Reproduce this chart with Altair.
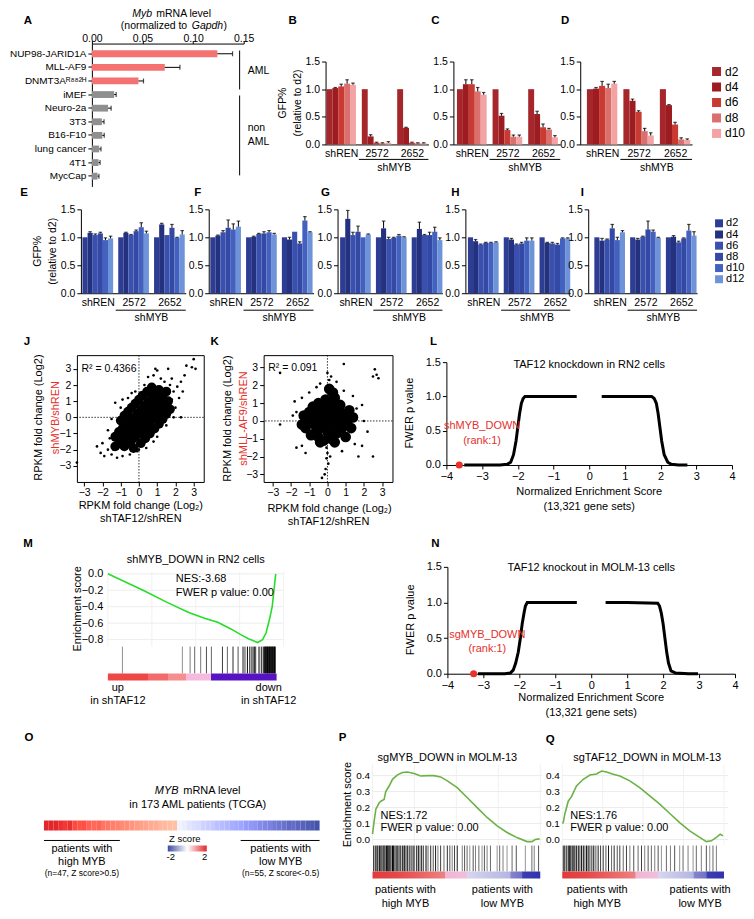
import altair as alt
import pandas as pd

FONT = "Liberation Sans"
RED_TXT = "#e5302b"

# ================= DATA =================
# Panel A
A_LINES = ["NUP98-JARID1A", "MLL-AF9", "DNMT3Aᴿ⁸⁸²ᴴ", "iMEF", "Neuro-2a", "3T3",
           "B16-F10", "lung cancer", "4T1", "MycCap"]
A_VALS = [0.124, 0.072, 0.046, 0.022, 0.016, 0.0099, 0.0103, 0.0072, 0.0066, 0.0056]
A_ERRS = [0.015, 0.015, 0.005, 0.002, 0.003, 0.0021, 0.0019, 0.0018, 0.0015, 0.0014]
A_GROUP = ["AML"] * 3 + ["non AML"] * 7

# Panels B-D (red, d2..d10)
DAYS_R = ["d2", "d4", "d6", "d8", "d10"]
REDS = ["#a5262b", "#9c1c21", "#c93a33", "#d9706e", "#f3a3a3"]
B_VALS = [[1.00, 1.02, 1.05, 1.10, 1.08], [1.00, 0.145, 0.03, 0.02, 0.03], [1.00, 0.30, 0.03, 0.02, 0.02]]
B_ERRS = [[0, 0.01, 0.04, 0.07, 0.03], [0, 0.03, 0.01, 0.01, 0.02], [0, 0.01, 0.01, 0.01, 0.01]]
C_VALS = [[1.00, 1.09, 1.09, 0.96, 0.90], [1.00, 0.52, 0.26, 0.14, 0.14], [1.00, 0.55, 0.31, 0.27, 0.13]]
C_ERRS = [[0, 0.08, 0.08, 0.07, 0.04], [0, 0.04, 0.02, 0.03, 0.03], [0, 0.05, 0.06, 0.02, 0.03]]
D_VALS = [[1.00, 1.01, 1.06, 1.02, 1.10], [1.00, 0.79, 0.59, 0.24, 0.16], [1.00, 0.71, 0.36, 0.09, 0.08]]
D_ERRS = [[0, 0.02, 0.08, 0.07, 0.04], [0, 0.03, 0.02, 0.05, 0.05], [0, 0.01, 0.04, 0.03, 0.02]]

# Panels E-I (blue, d2..d12)
DAYS_B = ["d2", "d4", "d6", "d8", "d10", "d12"]
BLUES = ["#2d3d93", "#23317f", "#3a50ae", "#3449a6", "#4362c0", "#6f93d8"]
E_VALS = [[1.0, 1.08, 1.04, 1.07, 0.95, 0.98], [1.0, 1.08, 1.04, 1.11, 1.18, 1.07], [1.0, 1.23, 1.04, 1.17, 0.99, 1.05]]
E_ERRS = [[0, 0.02, 0.02, 0.02, 0.04, 0.04], [0, 0.01, 0.01, 0.02, 0.08, 0.04], [0, 0.02, 0.0, 0.06, 0.01, 0.07]]
F_VALS = [[1.0, 1.03, 1.09, 1.17, 1.14, 1.19], [1.0, 1.01, 1.06, 1.07, 1.09, 1.05], [1.0, 0.96, 1.10, 0.89, 1.30, 1.09]]
F_ERRS = [[0, 0.01, 0.03, 0.14, 0.10, 0.10], [0, 0.01, 0.01, 0.03, 0.03, 0.02], [0, 0.04, 0, 0.03, 0.07, 0.01]]
G_VALS = [[1.0, 1.33, 1.04, 1.10, 1.0, 1.05], [1.0, 1.16, 0.97, 0.99, 1.03, 1.0], [1.0, 1.15, 1.04, 1.04, 1.10, 0.95]]
G_ERRS = [[0, 0.15, 0.05, 0.10, 0, 0.01], [0, 0.13, 0.03, 0.01, 0.02, 0.01], [0, 0.12, 0.01, 0.05, 0.08, 0.04]]
H_VALS = [[1.0, 0.93, 0.87, 0.90, 0.90, 0.91], [1.0, 0.96, 0.87, 0.89, 0.94, 0.94], [1.0, 0.90, 0.89, 0.87, 0.98, 0.98]]
H_ERRS = [[0, 0.03, 0.01, 0.01, 0.01, 0.01], [0, 0.02, 0.01, 0.02, 0.05, 0.05], [0, 0.01, 0.02, 0.02, 0.01, 0.01]]
I_VALS = [[1.0, 0.94, 0.96, 1.16, 0.95, 1.09], [1.0, 0.96, 1.01, 1.14, 1.10, 0.99], [1.0, 1.01, 0.91, 0.98, 1.12, 1.03]]
I_ERRS = [[0, 0.04, 0.01, 0.07, 0.05, 0.03], [0, 0.02, 0.01, 0.15, 0.03, 0.01], [0, 0.02, 0.02, 0.01, 0.11, 0.07]]

# Panel J scatter (dense core + sparse points)
J_CORE = [(-1.3, -1.8), (-1.1, -1.6), (-0.9, -1.4), (-0.7, -1.2), (-0.5, -1.0), (-0.3, -0.8), (-0.1, -0.55),
          (0.1, -0.3), (0.3, -0.05), (0.5, 0.2), (0.7, 0.45), (0.9, 0.7), (1.1, 0.95), (1.3, 1.25), (1.5, 1.6),
          (-1.3, -1.2), (-1.1, -0.9), (-0.9, -0.7), (-0.7, -0.5), (-0.5, -0.3), (-0.3, -0.05), (-0.1, 0.2),
          (0.1, 0.45), (0.3, 0.7), (0.5, 0.95), (0.7, 1.2), (0.9, 1.45), (1.1, 1.7),
          (-1.0, -0.2), (-0.8, 0.1), (-0.6, 0.35), (-0.4, 0.6), (-0.2, 0.85), (0.0, 1.1), (0.2, 1.35), (0.45, 1.6), (0.7, 1.85),
          (-0.8, -1.8), (-0.6, -1.6), (-0.4, -1.4), (-0.2, -1.2), (0.0, -1.0), (0.2, -0.8), (0.4, -0.55), (0.6, -0.3),
          (0.8, -0.05), (1.0, 0.2), (1.2, 0.45), (1.4, 0.75), (1.6, 1.0),
          (-0.3, -1.9), (0.1, -1.6), (0.35, -1.3), (0.6, -1.0), (0.85, -0.7), (1.1, -0.4), (1.3, -0.1), (1.5, 0.2), (1.7, 0.5)]
J_PTS = [(-3.4, -2.8), (-2.1, -2.2), (-1.9, -2.4), (-1.7, -2.0), (-2.0, -1.6), (-1.5, -2.3), (-1.2, -2.5), (-0.9, -2.4),
         (-0.5, -2.3), (-0.1, -2.1), (0.4, -1.9), (1.0, -1.2), (1.5, -0.5), (1.9, 0.0), (2.3, 0.0), (2.0, 0.6),
         (2.2, 1.2), (1.9, 1.6), (1.7, 2.0), (1.8, 2.4), (1.6, 3.0), (2.5, 2.6), (2.6, 3.2), (2.9, 3.1), (3.0, 3.6),
         (3.1, 3.0), (2.3, 2.2), (1.2, 2.4), (0.8, 2.6), (0.5, 2.5), (1.0, 2.9), (0.9, 3.0), (-0.4, 1.5), (-1.0, 0.6),
         (-1.3, 0.9), (-0.9, 1.1), (-1.5, -0.1), (-1.7, -0.8), (-1.6, -1.3), (2.1, 1.9), (1.4, 2.2), (-0.6, 1.2),
         (0.3, 2.0), (-0.2, 1.6), (1.8, 1.1), (2.4, 1.6), (0.8, -1.5), (-1.4, -2.0), (0.0, -2.0), (-2.3, -1.8)]

# Panel K scatter
K_CORE = [(-1.2, -0.4), (-1.1, 0.1), (-1.0, 0.5), (-0.9, -0.8), (-0.8, 0.8), (-0.7, -0.2), (-0.6, 0.3), (-0.5, -0.9),
          (-0.5, 1.0), (-0.4, -0.4), (-0.3, 0.6), (-0.2, -1.1), (-0.2, 0.1), (-0.1, 1.2), (0.0, -0.6), (0.1, 0.4),
          (0.2, -1.0), (0.2, 0.9), (0.3, -0.2), (0.4, 1.3), (0.5, 0.5), (0.5, -0.7), (0.6, 0.0), (0.7, 0.9),
          (0.8, -0.4), (0.9, 0.4), (1.0, -0.9), (1.1, 0.0), (1.2, 0.6), (1.3, -0.4), (-1.3, 0.3), (-0.9, 0.0),
          (-0.3, -0.1), (0.0, 0.0), (0.3, 0.3), (-0.6, -0.5), (0.1, -0.3), (0.9, -0.1), (0.4, -1.2), (-0.4, -1.2),
          (0.0, 0.8), (-0.7, 0.5), (1.4, 0.2), (0.3, 1.6), (0.1, 1.8), (-1.4, -0.2)]
K_PTS = [(0.1, 2.0), (0.1, 2.3), (0.2, 2.5), (0.0, 2.7), (-0.05, -1.5), (0.0, -1.8), (-0.05, -2.1), (0.05, -2.4),
         (-0.1, -2.7), (-0.15, -3.0), (-0.3, -3.2), (0.15, -2.0), (-2.6, 2.7), (0.9, 3.2), (2.6, 2.9), (2.7, 2.6),
         (2.8, 2.4), (2.5, 2.5), (-1.8, 1.1), (-1.9, 0.3), (-2.6, -0.2), (-1.7, -1.5), (-1.4, -1.4), (1.5, -1.3),
         (1.9, -1.4), (2.5, -2.0), (1.7, -2.0), (2.2, -0.6), (1.9, 0.9), (-1.0, 1.6), (-1.4, 1.3), (1.4, 1.4),
         (0.9, 1.7), (-0.6, 1.9), (1.6, 0.7), (-1.7, 0.5), (2.0, 0.0), (-1.2, -1.8), (0.8, -1.7), (0.5, 2.2), (-0.4, 2.1)]

# Panels L and N: FWER p value vs NES
L_LEFT = [(-3.5, 0), (-2.5, 0), (-2.3, 0.01), (-2.2, 0.04), (-2.12, 0.15), (-2.05, 0.35), (-2.0, 0.55),
          (-1.95, 0.75), (-1.9, 0.9), (-1.85, 0.97), (-1.8, 1.0), (-1.0, 1.0), (-0.35, 1.0)]
L_RIGHT = [(0.35, 1.0), (1.0, 1.0), (1.75, 1.0), (1.82, 0.97), (1.88, 0.9), (1.93, 0.75), (1.98, 0.55),
           (2.03, 0.35), (2.1, 0.15), (2.2, 0.04), (2.3, 0.01), (2.5, 0), (2.75, 0)]
N_LEFT = [(-3.15, 0), (-2.4, 0), (-2.25, 0.01), (-2.17, 0.05), (-2.1, 0.15), (-2.03, 0.3), (-1.97, 0.5),
          (-1.92, 0.7), (-1.87, 0.85), (-1.83, 0.95), (-1.78, 1.0), (-1.0, 1.0), (-0.4, 1.0)]
N_RIGHT = [(0.4, 1.0), (1.0, 1.0), (1.85, 0.99), (1.9, 0.95), (1.95, 0.85), (2.0, 0.7), (2.05, 0.5),
           (2.1, 0.3), (2.15, 0.15), (2.22, 0.04), (2.35, 0.01), (2.7, 0), (2.97, 0)]

# Panel M: running enrichment score, hits
M_X = [0, 10, 20, 34, 46, 55, 62.5, 70, 75.6, 80, 85.2, 88, 90, 92, 93.5, 94.5, 95.5]
M_Y = [0, -0.1, -0.2, -0.35, -0.47, -0.54, -0.59, -0.67, -0.74, -0.79, -0.836, -0.80, -0.72, -0.55, -0.4, -0.2, 0.0]
M_BAR_X = [8.3, 42.4, 46.8, 49.4, 52.8, 56.1, 58.9, 65.2, 68.0, 71.2,
           74.1, 76.9, 78.0, 79.4, 80.7, 81.6, 82.6, 83.5, 84.1, 86.0,
           87.3, 88.4, 89.2, 89.6, 90.0, 90.4, 90.8, 91.2, 91.6, 92.0,
           92.4, 92.8, 93.2, 93.6, 94.0, 94.4, 94.8, 95.2]
M_BAR_W = [0.3, 0.3, 0.4, 0.5, 0.4, 0.6, 0.5, 0.7, 0.5, 0.8,
           0.6, 0.9, 0.7, 1.0, 0.8, 0.6, 1.0, 0.9, 0.7, 1.0,
           0.9, 1.0, 1.0, 1.0, 1.0, 1.0, 1.0, 1.0, 1.0, 1.0,
           1.0, 1.0, 1.0, 1.0, 1.0, 1.0, 1.0, 1.0]

# Panel O: MYB z-scores (sorted patients)
O_Z = [2.3, 2.1, 2.2, 1.9, 1.8, 1.9, 1.6, 1.5, 1.55, 1.3, 1.2, 1.25, 1.05, 1.0, 0.9, 0.85, 0.75, 0.7,
       0.6, 0.5, 0.45, 0.38, 0.3, 0.25, 0.15, 0.1, 0.05, 0.0, -0.05, -0.1, -0.2, -0.25, -0.3, -0.4, -0.45, -0.5,
       -0.6, -0.65, -0.7, -0.8, -0.85, -0.9, -1.0, -1.05, -1.1, -1.2, -1.25, -1.3, -1.4, -1.45, -1.5, -1.6,
       -1.55, -1.65, -1.7, -1.75, -1.8, -1.9]

# Panel P
P_X = [0, 1.0, 2.0, 4.0, 5.0, 6.9, 7.9, 9.9, 11.9, 14.9, 17.8, 20.8, 24.8, 28.7, 32.7, 36.6, 40.6, 44.6,
       50.5, 56.4, 62.4, 68.3, 74.3, 80.2, 86.1, 92.1, 95.0, 97.0, 99.6]
P_Y = [0.034, 0.117, 0.19, 0.23, 0.24, 0.25, 0.30, 0.335, 0.377, 0.405, 0.42, 0.423, 0.413, 0.398, 0.40, 0.40,
       0.392, 0.367, 0.325, 0.263, 0.2, 0.138, 0.085, 0.044, 0.012, -0.013, -0.013, 0.0, 0.004]
P_BAR_X = [0.6, 1.6, 2.6, 3.2, 4.2, 5.0, 5.5, 6.3, 6.9, 7.5,
           8.3, 8.9, 9.3, 9.9, 10.5, 11.1, 11.9, 12.5, 13.3, 14.1,
           14.9, 15.8, 16.8, 17.8, 18.6, 19.2, 20.0, 21.0, 22.0, 23.0,
           24.2, 25.1, 26.3, 27.3, 28.3, 29.3, 30.3, 31.9, 33.1, 34.7,
           36.2, 37.6, 39.0, 40.6, 42.6, 44.6, 46.1, 47.5, 48.9, 50.5,
           53.5, 54.9, 56.4, 58.0, 60.0, 61.4, 63.4, 65.3, 66.7, 68.3,
           70.3, 74.3, 75.8, 77.8, 80.2, 83.2, 85.7, 91.1, 95.0, 96.4,
           99.0]
P_BAR_W = [0.7, 1.0, 0.8, 1.0, 0.9, 1.0, 0.6, 1.0, 0.9, 0.8,
           1.0, 0.7, 1.0, 0.9, 1.0, 0.6, 1.0, 0.9, 0.7, 1.0,
           0.6, 1.0, 0.8, 0.9, 0.5, 1.0, 0.7, 1.0, 0.6, 0.9,
           1.0, 0.5, 0.8, 1.0, 0.6, 0.9, 0.7, 1.0, 0.5, 0.8,
           0.6, 0.9, 0.4, 0.7, 0.5, 0.8, 0.6, 0.4, 0.7, 0.9,
           0.4, 0.6, 0.5, 0.3, 0.6, 0.4, 0.5, 0.3, 0.6, 0.4,
           0.5, 0.3, 0.5, 0.4, 0.3, 0.5, 0.6, 0.3, 0.5, 0.4,
           0.6]

# Panel Q
Q_X = [0, 0.6, 1.6, 3.7, 5.8, 8.8, 13.0, 17.1, 21.2, 24.3, 27.4, 31.5, 35.6, 41.8, 47.9, 54.1, 60.3,
       66.5, 72.6, 78.8, 85.0, 89.1, 92.2, 95.3, 97.7, 99.4]
Q_Y = [0.10, 0.106, 0.16, 0.24, 0.27, 0.335, 0.377, 0.404, 0.41, 0.429, 0.423, 0.408, 0.398, 0.367, 0.325,
       0.273, 0.221, 0.163, 0.106, 0.054, 0.013, -0.013, -0.008, 0.013, 0.033, 0.023]
Q_BAR_X = [0.6, 1.6, 2.7, 3.7, 4.5, 5.3, 6.2, 7.0, 7.8, 8.8,
           9.9, 10.9, 11.9, 13.0, 14.0, 15.0, 16.0, 17.1, 18.3, 19.5,
           20.8, 22.2, 23.7, 25.3, 27.0, 28.6, 30.5, 32.1, 34.0, 35.6,
           37.7, 39.7, 41.8, 44.2, 46.9, 49.0, 51.0, 53.1, 55.1, 57.2,
           59.3, 61.3, 64.4, 66.9, 69.5, 72.6, 74.7, 77.8, 80.9, 82.9,
           86.0, 89.1, 91.2, 93.2, 95.3]
Q_BAR_W = [0.9, 1.0, 0.7, 1.0, 0.8, 1.0, 0.9, 0.6, 1.0, 0.8,
           1.0, 0.7, 0.9, 1.0, 0.6, 0.9, 1.0, 0.7, 0.8, 1.0,
           0.6, 0.9, 0.7, 0.8, 0.6, 0.9, 0.5, 0.8, 0.6, 0.7,
           0.5, 0.7, 0.4, 0.6, 0.5, 0.7, 0.4, 0.6, 0.5, 0.4,
           0.6, 0.3, 0.5, 0.4, 0.6, 0.3, 0.5, 0.4, 0.3, 0.5,
           0.4, 0.6, 0.3, 0.5, 0.4]


# ================= helpers =================
def tdf(**cols):
    return pd.DataFrame({k: (v if isinstance(v, list) else [v]) for k, v in cols.items()})


def ptxt(text, x, y, size=11, align="center", baseline="middle", color="black",
         weight="normal", style="normal", angle=0, opacity=1):
    return alt.Chart(tdf(t=text)).mark_text(
        font=FONT, fontSize=size, align=align, baseline=baseline, color=color,
        fontWeight=weight, fontStyle=style, angle=angle, opacity=opacity
    ).encode(x=alt.value(x), y=alt.value(y), text="t:N")


def dtxt(text, x, y, xs, ys, ax, ay, size=11, align="center", baseline="middle", color="black"):
    return alt.Chart(tdf(t=text, x=x, y=y)).mark_text(
        font=FONT, fontSize=size, align=align, baseline=baseline, color=color
    ).encode(x=alt.X("x:Q", scale=xs, axis=ax), y=alt.Y("y:Q", scale=ys, axis=ay), text="t:N")


def letter(ch, dx, dy):
    return ptxt(ch, dx, dy, size=11.5, weight="bold")


def anchors(left, top, bottom):
    return [ptxt(".", left, top, size=2, align="left", baseline="top", opacity=0),
            ptxt(".", left, bottom, size=2, align="left", baseline="bottom", opacity=0)]


def spacer(w):
    return alt.Chart(tdf(t="")).mark_text(opacity=0).encode(text="t:N").properties(width=w, height=1)


def gradient(stops):
    return alt.LinearGradient(gradient="linear", x1=0, x2=1, y1=0, y2=0,
                              stops=[alt.GradientStop(color=c, offset=o) for o, c in stops])


# ================= panels =================
def panel_A():
    df = pd.DataFrame({"line": A_LINES, "val": A_VALS, "err": A_ERRS, "grp": A_GROUP})
    df["hi"] = df["val"] + df["err"]
    xs = alt.Scale(domain=[0, 0.15], nice=False, zero=True)
    ys = alt.Scale(domain=A_LINES, paddingInner=0.5, paddingOuter=0.5)
    ax = alt.Axis(orient="top", values=[0, 0.05, 0.10, 0.15], format=".2f", title=None, tickSize=3,
                  labelPadding=-1, labelBaseline="alphabetic", labelFontSize=10.5)
    ay = alt.Axis(title=None, tickSize=4, labelPadding=2, labelFontSize=10)
    Y = alt.Y("line:N", scale=ys, sort=A_LINES, axis=ay)
    bars = alt.Chart(df).mark_bar().encode(
        x=alt.X("val:Q", scale=xs, axis=ax), y=Y,
        color=alt.Color("grp:N", scale=alt.Scale(domain=["AML", "non AML"], range=["#f47372", "#8f8f8f"]), legend=None))
    err = alt.Chart(df).mark_rule(color="black", strokeWidth=1).encode(
        x=alt.X("val:Q", scale=xs, axis=ax), x2="hi:Q", y=Y)
    cap = alt.Chart(df).mark_tick(color="black", orient="vertical", size=5, thickness=1.2).encode(
        x=alt.X("hi:Q", scale=xs, axis=ax), y=Y)
    br1 = alt.Chart(tdf(x=0.146)).mark_rule(color="black", strokeWidth=1).encode(
        x=alt.X("x:Q", scale=xs, axis=ax), y=alt.value(7), y2=alt.value(46))
    br2 = alt.Chart(tdf(x=0.146)).mark_rule(color="black", strokeWidth=1).encode(
        x=alt.X("x:Q", scale=xs, axis=ax), y=alt.value(52), y2=alt.value(132))
    layers = [bars, err, cap, br1, br2,
              ptxt("AML", 156, 27, size=10.5, align="left"),
              ptxt("non", 156, 85, size=10.5, align="left"),
              ptxt("AML", 156, 99, size=10.5, align="left"),
              ptxt("Myb", 40.5, -30, size=10.5, align="left", style="italic"),
              ptxt("mRNA level", 64.5, -30, size=10.5, align="left"),
              ptxt("(normalized to", 29, -17.5, size=10.5, align="left"),
              ptxt("Gapdh", 100, -17.5, size=10.5, align="left", style="italic"),
              ptxt(")", 131.8, -17.5, size=10.5, align="left"),
              letter("A", -64, -23)] + anchors(-83, -35, 144)
    return alt.layer(*layers).properties(width=152, height=143)


def bar_panel(vals, errs, days, colors, cfield, width, height, xdom, yrange, ul_dy, sm_dy, extra):
    n = len(days)
    step = n + 1
    rows = []
    for g in range(3):
        for i, d in enumerate(days):
            v = vals[g][i]
            e = errs[g][i]
            rows.append({"x0": g * step + i, "x1": g * step + i + 1, "xc": g * step + i + 0.5,
                         "v": v, "hi": v + e, "e": e, "z": 0, cfield: d})
    df = pd.DataFrame(rows)
    xs = alt.Scale(domain=xdom, nice=False, zero=False)
    if yrange is None:
        ys = alt.Scale(domain=[0, 1.5], nice=False)
    else:
        ys = alt.Scale(domain=[0, 1.5], range=yrange, nice=False)
    centers = [g * step + n / 2 for g in range(3)]
    lexpr = f"datum.value < {step} ? 'shREN' : (datum.value < {2 * step} ? '2572' : '2652')"
    ax = alt.Axis(values=centers, labelExpr=lexpr, ticks=False, title=None, labelPadding=4, labelFontSize=10.5)
    ay = alt.Axis(values=[0, 0.5, 1.0, 1.5], format=".1f", title=None, tickSize=4, labelPadding=2, labelFontSize=10.5)
    bars = alt.Chart(df).mark_rect().encode(
        x=alt.X("x0:Q", scale=xs, axis=ax), x2="x1:Q",
        y=alt.Y("v:Q", scale=ys, axis=ay), y2="z:Q",
        color=alt.Color(f"{cfield}:N", scale=alt.Scale(domain=days, range=colors), legend=None))
    dfe = df[df["e"] > 0]
    err = alt.Chart(dfe).mark_rule(color="black", strokeWidth=1).encode(
        x=alt.X("xc:Q", scale=xs, axis=ax), y=alt.Y("v:Q", scale=ys, axis=ay), y2="hi:Q")
    cap = alt.Chart(dfe).mark_tick(color="black", orient="horizontal", size=3.5, thickness=1.2).encode(
        x=alt.X("xc:Q", scale=xs, axis=ax), y=alt.Y("hi:Q", scale=ys, axis=ay))
    ul = alt.Chart(tdf(a=step - 0.5, b=xdom[1])).mark_rule(color="black", strokeWidth=1).encode(
        x=alt.X("a:Q", scale=xs, axis=ax), x2="b:Q", y=alt.value(height + ul_dy))
    sm = alt.Chart(tdf(t="shMYB", x=(4 * step - 1) / 2)).mark_text(font=FONT, fontSize=10.5).encode(
        x=alt.X("x:Q", scale=xs, axis=ax), y=alt.value(height + sm_dy), text="t:N")
    return alt.layer(bars, err, cap, ul, sm, *extra).properties(width=width, height=height)


def legend_panel(days, colors, cfield, yr, sq, sqx, tx, fsize, width, height):
    df = pd.DataFrame({cfield: days, "k": list(range(len(days)))})
    ysc = alt.Scale(domain=[0, len(days) - 1], range=yr, nice=False)
    sqs = alt.Chart(df).mark_square(size=sq, opacity=1).encode(
        x=alt.value(sqx), y=alt.Y("k:Q", scale=ysc, axis=None),
        color=alt.Color(f"{cfield}:N", scale=alt.Scale(domain=days, range=colors), legend=None))
    lab = alt.Chart(df).mark_text(align="left", baseline="middle", fontSize=fsize, font=FONT).encode(
        x=alt.value(tx), y=alt.Y("k:Q", scale=ysc, axis=None), text=f"{cfield}:N")
    return alt.layer(sqs, lab).properties(width=width, height=height)


def scatter_panel(core, pts, xdom, ydom, width, height, r2, core_size, extra):
    xs = alt.Scale(domain=xdom, nice=False, zero=False)
    ys = alt.Scale(domain=ydom, nice=False, zero=False)
    dcore = pd.DataFrame(core, columns=["x", "y"])
    dpts = pd.DataFrame(pts, columns=["x", "y"])
    ticks = [-3, -2, -1, 0, 1, 2, 3]
    ax = alt.Axis(values=ticks, title=None, tickSize=4, labelPadding=2, labelFontSize=10.5, domain=False, format="d")
    ay = alt.Axis(values=ticks, title=None, tickSize=4, labelPadding=2, labelFontSize=10.5, domain=False, format="d")
    vz = alt.Chart(tdf(x=0, y=0)).mark_rule(color="black", strokeDash=[1.5, 1.5], strokeWidth=0.8).encode(
        x=alt.X("x:Q", scale=xs, axis=ax))
    hz = alt.Chart(tdf(x=0, y=0)).mark_rule(color="black", strokeDash=[1.5, 1.5], strokeWidth=0.8).encode(
        y=alt.Y("y:Q", scale=ys, axis=ay))
    cl = alt.Chart(dcore).mark_circle(size=core_size, color="black", opacity=1).encode(
        x=alt.X("x:Q", scale=xs, axis=ax), y=alt.Y("y:Q", scale=ys, axis=ay))
    pl = alt.Chart(dpts).mark_circle(size=7, color="black", opacity=1).encode(
        x=alt.X("x:Q", scale=xs, axis=ax), y=alt.Y("y:Q", scale=ys, axis=ay))
    r2t = dtxt(r2, xdom[0] + 0.25, 3.0, xs, ys, ax, ay, size=10.5, align="left")
    return alt.layer(vz, hz, cl, pl, r2t, *extra).properties(
        width=width, height=height, view=alt.ViewBackground(stroke="black", strokeWidth=1))


def ness_panel(left, right, dot_x, lab1, lab_x, lab_y1, lab_y2, title, title_y, width, height, yrange,
               ytitle_y, xt1, xt2, extra):
    xs = alt.Scale(domain=[-4, 4], nice=False)
    if yrange is None:
        ys = alt.Scale(domain=[0, 1.5], nice=False)
    else:
        ys = alt.Scale(domain=[0, 1.5], range=yrange, nice=False)
    ax = alt.Axis(values=list(range(-4, 5)), title=None, tickSize=4, labelPadding=2, labelFontSize=11, format="d")
    ay = alt.Axis(values=[0, 0.5, 1.0, 1.5], format=".1f", title=None, tickSize=4, labelPadding=2, labelFontSize=11)
    rows = [{"x": x, "y": y, "seg": "a"} for x, y in left] + [{"x": x, "y": y, "seg": "b"} for x, y in right]
    df = pd.DataFrame(rows)
    line = alt.Chart(df).mark_line(color="black", strokeWidth=3).encode(
        x=alt.X("x:Q", scale=xs, axis=ax), y=alt.Y("y:Q", scale=ys, axis=ay), detail="seg:N")
    dot = alt.Chart(tdf(x=dot_x, y=0)).mark_circle(size=50, color="#e8322a", opacity=1).encode(
        x=alt.X("x:Q", scale=xs, axis=ax), y=alt.Y("y:Q", scale=ys, axis=ay))
    layers = [line, dot,
              dtxt(lab1, lab_x, lab_y1, xs, ys, ax, ay, size=11, color=RED_TXT),
              dtxt("(rank:1)", lab_x, lab_y2, xs, ys, ax, ay, size=11, color=RED_TXT),
              dtxt(title, 0, title_y, xs, ys, ax, ay, size=11),
              ptxt("FWER p value", -36, ytitle_y, size=11, angle=270),
              ptxt("Normalized Enrichment Score", width / 2, xt1, size=11),
              ptxt("(13,321 gene sets)", width / 2, xt2, size=11)] + extra
    return alt.layer(*layers).properties(width=width, height=height)


def panel_M():
    xs = alt.Scale(domain=[0, 100], nice=False, zero=False)
    ys = alt.Scale(domain=[-1.30, 0.085], nice=False, zero=False)
    ay = alt.Axis(values=[0, -0.2, -0.4, -0.6, -0.8], format=".1f", title=None, ticks=False, domain=False,
                  labelPadding=5, labelFontSize=11)
    gh = alt.Chart(pd.DataFrame({"y": [0, -0.2, -0.4, -0.6, -0.8], "x0": 0, "x1": 100})).mark_rule(
        color="#e8e8e8", strokeWidth=0.8).encode(
        x=alt.X("x0:Q", scale=xs, axis=None), x2="x1:Q", y=alt.Y("y:Q", scale=ys, axis=ay))
    gv = alt.Chart(pd.DataFrame({"x": [0, 25, 50, 75, 100], "y0": -0.885, "y1": 0.03})).mark_rule(
        color="#eeeeee", strokeWidth=0.8).encode(
        x=alt.X("x:Q", scale=xs, axis=None), y=alt.Y("y0:Q", scale=ys, axis=ay), y2="y1:Q")
    curve = alt.Chart(pd.DataFrame({"x": M_X, "y": M_Y})).mark_line(color="#27dd27", strokeWidth=1.6).encode(
        x=alt.X("x:Q", scale=xs, axis=None), y=alt.Y("y:Q", scale=ys, axis=ay))
    bc = alt.Chart(pd.DataFrame({"x": M_BAR_X, "w": M_BAR_W, "y0": -0.885, "y1": -1.212})).mark_rule(
        strokeWidth=1).encode(
        x=alt.X("x:Q", scale=xs, axis=None), y=alt.Y("y0:Q", scale=ys, axis=ay), y2="y1:Q",
        color=alt.Color("w:Q", scale=alt.Scale(domain=[0, 1], range=["#d8d8d8", "#000000"]), legend=None))
    cb = alt.Chart(tdf(x0=0, x1=96, y0=-1.212, y1=-1.297)).mark_rect(color=gradient(
        [(0, "#ef4646"), (0.236, "#ef4646"), (0.236, "#f26b6b"), (0.354, "#f26b6b"), (0.354, "#f58e8e"),
         (0.462, "#f58e8e"), (0.462, "#f5bade"), (0.614, "#f5bade"), (0.614, "#5713c3"), (1, "#5713c3")])).encode(
        x=alt.X("x0:Q", scale=xs, axis=None), x2="x1:Q", y=alt.Y("y0:Q", scale=ys, axis=ay), y2="y1:Q")
    layers = [gh, gv, bc, cb, curve,
              ptxt("shMYB_DOWN in RN2 cells", 88, -7, size=11),
              ptxt("NES:-3.68", 68, 12, size=11, align="left"),
              ptxt("FWER p value: 0.00", 68, 26, size=11, align="left"),
              ptxt("Enrichment score", -30, 42, size=11, angle=270),
              ptxt("up", 10, 121, size=11),
              ptxt("in shTAF12", 10, 134, size=11),
              ptxt("down", 161, 121, size=11),
              ptxt("in shTAF12", 161, 134, size=11),
              letter("M", -80, -23)] + anchors(-99, -33, 162)
    return alt.layer(*layers).properties(width=176, height=114)


def panel_PQ(cx, cy, bx, bw, stops, width, xmax, title, title_x, nes, high_x, low_x, extra):
    xs = alt.Scale(domain=[0, xmax], nice=False, zero=False)
    ys = alt.Scale(domain=[-0.2435, 0.469], nice=False, zero=False)
    ay = alt.Axis(values=[0, 0.1, 0.2, 0.3, 0.4], format=".1f", title=None, ticks=False, domain=False,
                  labelPadding=3, labelFontSize=10)
    gh = alt.Chart(pd.DataFrame({"y": [0, 0.1, 0.2, 0.3, 0.4], "x0": 0, "x1": xmax})).mark_rule(
        color="#e6e6e6", strokeWidth=0.8).encode(
        x=alt.X("x0:Q", scale=xs, axis=None), x2="x1:Q", y=alt.Y("y:Q", scale=ys, axis=ay))
    gv = alt.Chart(pd.DataFrame({"x": [0, 25, 50, 75, 100], "y0": -0.035, "y1": 0.469})).mark_rule(
        color="#eeeeee", strokeWidth=0.8).encode(
        x=alt.X("x:Q", scale=xs, axis=None), y=alt.Y("y0:Q", scale=ys, axis=ay), y2="y1:Q")
    curve = alt.Chart(pd.DataFrame({"x": cx, "y": cy})).mark_line(color="#6cb146", strokeWidth=1.6).encode(
        x=alt.X("x:Q", scale=xs, axis=None), y=alt.Y("y:Q", scale=ys, axis=ay))
    bc = alt.Chart(pd.DataFrame({"x": bx, "w": bw, "y0": -0.0375, "y1": -0.2})).mark_rule(strokeWidth=1).encode(
        x=alt.X("x:Q", scale=xs, axis=None), y=alt.Y("y0:Q", scale=ys, axis=ay), y2="y1:Q",
        color=alt.Color("w:Q", scale=alt.Scale(domain=[0, 1], range=["#dcdcdc", "#000000"]), legend=None))
    cb = alt.Chart(tdf(x0=0, x1=100, y0=-0.2, y1=-0.2435)).mark_rect(color=gradient(stops)).encode(
        x=alt.X("x0:Q", scale=xs, axis=None), x2="x1:Q", y=alt.Y("y0:Q", scale=ys, axis=ay), y2="y1:Q")
    layers = [gh, gv, bc, cb, curve,
              ptxt(title, title_x, -7, size=11),
              ptxt(nes, 8, 51, size=11, align="left"),
              ptxt("FWER p value: 0.00", 8, 64, size=11, align="left"),
              ptxt("patients with", high_x, 126, size=11),
              ptxt("high MYB", high_x, 140, size=11),
              ptxt("patients with", low_x, 126, size=11),
              ptxt("low MYB", low_x, 140, size=11)] + extra
    return alt.layer(*layers).properties(width=width, height=114)


def panel_O():
    n = len(O_Z)
    df = pd.DataFrame({"i": list(range(n)), "z": O_Z})
    df["i1"] = df["i"] + 1
    xs = alt.Scale(domain=[0, n], nice=False, zero=False)
    cells = alt.Chart(df).mark_rect().encode(
        x=alt.X("i:Q", scale=xs, axis=None), x2="i1:Q", y=alt.value(56), y2=alt.value(66),
        color=alt.Color("z:Q", scale=alt.Scale(domain=[-2, 0, 2], range=["#3b4ba0", "#ffffff", "#e3262b"],
                                                clamp=True), legend=None))
    l1 = alt.Chart(tdf(a=0)).mark_rule(color="black", strokeWidth=1).encode(
        x=alt.value(0), x2=alt.value(76), y=alt.value(76))
    l2 = alt.Chart(tdf(a=0)).mark_rule(color="black", strokeWidth=1).encode(
        x=alt.value(197), x2=alt.value(276), y=alt.value(76))
    zg = alt.Chart(tdf(a=0)).mark_rect(color=gradient([(0, "#3b4ba0"), (0.5, "#ffffff"), (1, "#e3262b")])).encode(
        x=alt.value(124), x2=alt.value(163), y=alt.value(81), y2=alt.value(87))
    layers = [cells, l1, l2, zg,
              ptxt("MYB", 111, 26, size=11, align="left", style="italic"),
              ptxt("mRNA level", 139.5, 26, size=11, align="left"),
              ptxt("in 173 AML patients (TCGA)", 154, 40, size=11),
              ptxt("Z score", 141, 75, size=9.5),
              ptxt("-2", 127, 93, size=9.5),
              ptxt("2", 161, 93, size=9.5),
              ptxt("patients with", 38, 85, size=11),
              ptxt("high MYB", 38, 98, size=11),
              ptxt("(n=47, Z score>0.5)", 38, 109, size=8.5),
              ptxt("patients with", 237, 85, size=11),
              ptxt("low MYB", 237, 98, size=11),
              ptxt("(n=55, Z score<-0.5)", 237, 109, size=8.5),
              letter("O", -15, -27)] + anchors(-35, -36, 144)
    return alt.layer(*layers).properties(width=276, height=115)


# ================= rows =================
def gfp_title(yc):
    return [ptxt("GFP%", -43, yc, size=10.5, angle=270), ptxt("(relative to d2)", -28, yc, size=10.5, angle=270)]


def row(*charts):
    return alt.hconcat(*charts, spacing=0, bounds="flush").resolve_scale(color="independent")


A = panel_A()
B = bar_panel(B_VALS, B_ERRS, DAYS_R, REDS, "day_r", 103, 101, [-0.15, 17.3], [101, 18], 15, 24,
              [letter("B", -33, -23)] + gfp_title(59.5))
C = bar_panel(C_VALS, C_ERRS, DAYS_R, REDS, "day_r", 107, 101, [-0.6, 17.4], [101, 18], 15, 24,
              [letter("C", -18, -23)])
D = bar_panel(D_VALS, D_ERRS, DAYS_R, REDS, "day_r", 112, 101, [-1.1, 17.3], [101, 18], 15, 24,
              [letter("D", -15, -23)])
LEG1 = legend_panel(DAYS_R, REDS, "day_r", [28, 90], 81, 4.5, 13, 12, 30, 101)
row1 = row(spacer(83), A, spacer(82), B, spacer(25), C, spacer(20), D, spacer(20), LEG1)

E = bar_panel(E_VALS, E_ERRS, DAYS_B, BLUES, "day_b", 105, 84, [-0.3, 20.2], None, 17, 25,
              [letter("E", -57, -16)] + gfp_title(42) + anchors(-72, -21, 122))
F = bar_panel(F_VALS, F_ERRS, DAYS_B, BLUES, "day_b", 105, 84, [-0.3, 20.2], None, 17, 25,
              [letter("F", -11, -16)])
G = bar_panel(G_VALS, G_ERRS, DAYS_B, BLUES, "day_b", 105, 84, [-0.5, 20.0], None, 17, 25,
              [letter("G", -12, -16)])
H = bar_panel(H_VALS, H_ERRS, DAYS_B, BLUES, "day_b", 105, 84, [-0.5, 20.0], None, 17, 25,
              [letter("H", -10, -16)])
I = bar_panel(I_VALS, I_ERRS, DAYS_B, BLUES, "day_b", 109, 84, [-1.2, 20.1], None, 17, 25,
              [letter("I", -6, -16)])
LEG2 = legend_panel(DAYS_B, BLUES, "day_b", [14, 70], 64, 4, 11, 11, 30, 84)
row2 = row(spacer(72), E, spacer(23), F, spacer(24), G, spacer(23), H, spacer(18), I, spacer(18), LEG2)

J = scatter_panel(J_CORE, J_PTS, [-3.4, 3.55], [-4.0, 3.85], 127, 127, "R² = 0.4366", 95,
                  [ptxt("RPKM fold change (Log2)", -38, 62.5, size=11, angle=270),
                   ptxt("shMYB/shREN", -21, 62.5, size=11, angle=270, color=RED_TXT),
                   ptxt("RPKM fold change (Log₂)", 64, 151, size=11),
                   ptxt("shTAF12/shREN", 64, 164, size=11),
                   letter("J", -50, -13)] + anchors(-68, -23, 178))
K = scatter_panel(K_CORE, K_PTS, [-3.5, 3.57], [-3.43, 3.7], 129, 127, "R² = 0.091", 115,
                  [ptxt("RPKM fold change (Log2)", -36, 63.5, size=11, angle=270),
                   ptxt("shMLL-AF9/shREN", -20, 63.5, size=11, angle=270, color=RED_TXT),
                   ptxt("RPKM fold change (Log₂)", 66, 154, size=11),
                   ptxt("shTAF12/shREN", 65, 167, size=11),
                   letter("K", -49, -13)])
L = ness_panel(L_LEFT, L_RIGHT, -3.64, "shMYB_DOWN", -3.0, 0.565, 0.35, "TAF12 knockdown in RN2 cells", 1.455,
               286, 110, [110, 7], 58, 137, 152, [letter("L", -13, -13)])
row3 = row(spacer(68), J, spacer(60), K, spacer(54), L)

M = panel_M()
N = ness_panel(N_LEFT, N_RIGHT, -3.27, "sgMYB_DOWN", -2.89, 0.54, 0.34, "TAF12 knockout in MOLM-13 cells", 1.49,
               288, 107, None, 53, 131, 146, [letter("N", -12, -23)])
row4 = row(spacer(99), M, spacer(164), N)

P_STOPS = [(0, "#e23a3a"), (0.15, "#e54848"), (0.43, "#ee8080"), (0.435, "#f1b5d3"), (0.56, "#f1bfd9"),
           (0.565, "#d6d6ef"), (0.82, "#b5b5e3"), (0.825, "#8585cc"), (0.89, "#7272c4"), (0.895, "#3d3db2"),
           (1, "#3131aa")]
Q_STOPS = [(0, "#e23a3a"), (0.15, "#e54848"), (0.45, "#ee8080"), (0.455, "#f1b5d3"), (0.59, "#f1bfd9"),
           (0.595, "#d6d6ef"), (0.81, "#b5b5e3"), (0.815, "#8585cc"), (0.89, "#7272c4"), (0.895, "#3d3db2"),
           (1, "#3131aa")]
O = panel_O()
P = panel_PQ(P_X, P_Y, P_BAR_X, P_BAR_W, P_STOPS, 170, 101.2, "sgMYB_DOWN in MOLM-13", 75, "NES:1.72", 33, 130,
             [ptxt("Enrichment score", -25, 40, size=11, angle=270), letter("P", -30, -27)])
Q = panel_PQ(Q_X, Q_Y, Q_BAR_X, Q_BAR_W, Q_STOPS, 166, 102.5, "sgTAF12_DOWN in MOLM-13", 85, "NES:1.76", 35, 138,
             [letter("Q", -12, -25)])
row5 = row(spacer(35), O, spacer(53), P, spacer(20), Q)

chart = alt.vconcat(row1, row2, row3, row4, row5, spacing=0).resolve_scale(color="independent").properties(
    padding=0
).configure(font=FONT).configure_view(stroke=None).configure_axis(
    labelFont=FONT, titleFont=FONT, labelColor="black", titleColor="black", domainColor="black",
    tickColor="black", grid=False, labelFlush=False, labelOverlap=False, domainWidth=1, tickWidth=1
)

chart.save("out.html", embed_options={"renderer": "svg", "actions": False})
